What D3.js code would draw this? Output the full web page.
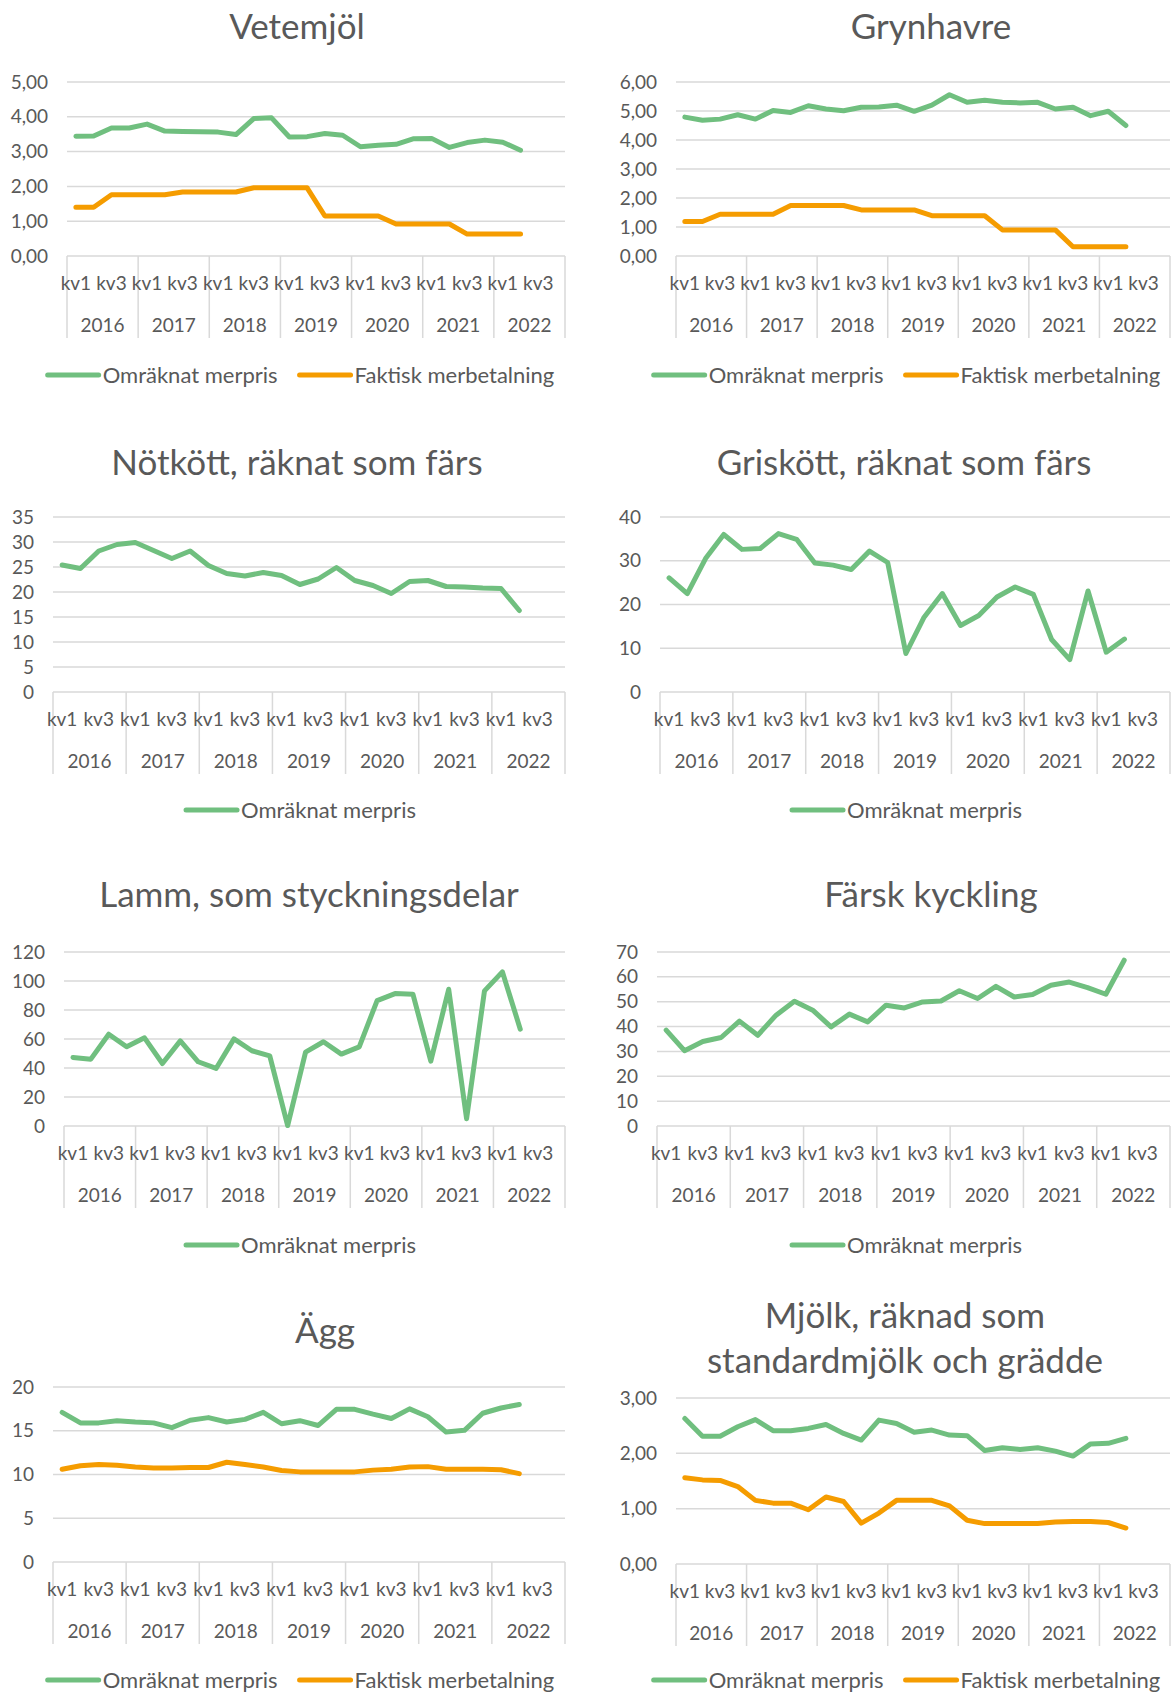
<!DOCTYPE html>
<html>
<head>
<meta charset="utf-8">
<script src="https://cdn.jsdelivr.net/npm/d3@7"></script>
<style>
  body { margin: 0; background: #fff; }
  svg { display: block; font-family: Lato, "Open Sans", sans-serif; }
</style>
</head>
<body>
<svg id="chart" width="1174" height="1693"></svg>
<script>
// kategorier
const years = ["2016", "2017", "2018", "2019", "2020", "2021", "2022"];
const quarters = ["kv1", "kv2", "kv3", "kv4"];
const shownQuarters = ["kv1", "kv3"];

// Vetemjöl
const vetemjolOmraknat = [3.44, 3.45, 3.68, 3.68, 3.79, 3.59, 3.58, 3.57, 3.56, 3.49, 3.95, 3.97, 3.42,
    3.43, 3.52, 3.47, 3.14, 3.18, 3.21, 3.37, 3.38, 3.12, 3.26, 3.33, 3.27, 3.04];
const vetemjolFaktisk = [1.40, 1.40, 1.76, 1.76, 1.76, 1.76, 1.84, 1.84, 1.84, 1.84, 1.96, 1.96, 1.96,
    1.96, 1.15, 1.15, 1.15, 1.15, 0.92, 0.92, 0.92, 0.92, 0.63, 0.63, 0.63, 0.63];

// Grynhavre
const grynhavreOmraknat = [4.79, 4.68, 4.72, 4.87, 4.72, 5.02, 4.95, 5.18, 5.07, 5.01, 5.13, 5.14, 5.20,
    4.99, 5.20, 5.56, 5.30, 5.37, 5.30, 5.28, 5.30, 5.07, 5.13, 4.84, 4.99, 4.50];
const grynhavreFaktisk = [1.19, 1.19, 1.44, 1.44, 1.44, 1.44, 1.74, 1.74, 1.74, 1.74, 1.59, 1.59, 1.59,
    1.59, 1.39, 1.39, 1.39, 1.39, 0.90, 0.90, 0.90, 0.90, 0.32, 0.32, 0.32, 0.32];

// Nötkött, räknat som färs
const notkottOmraknat = [25.4, 24.7, 28.2, 29.5, 29.9, 28.3, 26.7, 28.2, 25.3, 23.7, 23.2, 23.9, 23.3,
    21.5, 22.6, 24.9, 22.3, 21.3, 19.7, 22.1, 22.3, 21.1, 21.0, 20.8, 20.7, 16.3];

// Griskött, räknat som färs
const griskottOmraknat = [26.1, 22.5, 30.5, 36.0, 32.6, 32.8, 36.2, 34.9, 29.5, 29.0, 28.0, 32.2, 29.6,
    8.8, 17.1, 22.5, 15.2, 17.5, 21.7, 24.0, 22.3, 12.0, 7.4, 23.1, 9.1, 12.1];

// Lamm, som styckningsdelar
const lammOmraknat = [47.3, 46.1, 63.3, 54.6, 60.8, 43.1, 58.7, 44.3, 39.7, 60.1, 51.9, 48.4, 0.3,
    50.9, 58.1, 49.6, 54.6, 86.5, 91.3, 90.9, 44.7, 94.3, 5.0, 93.2, 106.3, 66.8];

// Färsk kyckling
const kycklingOmraknat = [38.6, 30.3, 34.0, 35.6, 42.2, 36.5, 44.6, 50.2, 46.6, 39.9, 45.0, 41.9, 48.6,
    47.5, 49.9, 50.3, 54.4, 51.3, 56.2, 51.9, 52.9, 56.6, 57.9, 55.7, 53.0, 66.7];

// Ägg
const aggOmraknat = [17.1, 15.9, 15.9, 16.15, 16.0, 15.9, 15.35, 16.2, 16.5, 16.0, 16.3, 17.1, 15.8,
    16.15, 15.6, 17.45, 17.45, 16.9, 16.4, 17.5, 16.6, 14.85, 15.05, 17.0, 17.6, 18.0];
const aggFaktisk = [10.6, 11.0, 11.15, 11.05, 10.85, 10.75, 10.75, 10.8, 10.8, 11.4, 11.15, 10.85, 10.45,
    10.3, 10.3, 10.3, 10.3, 10.5, 10.6, 10.85, 10.9, 10.6, 10.6, 10.6, 10.55, 10.1];

// Mjölk, räknad som standardmjölk och grädde
const mjolkOmraknat = [2.63, 2.31, 2.31, 2.48, 2.61, 2.41, 2.41, 2.45, 2.52, 2.36, 2.24, 2.60, 2.54,
    2.38, 2.42, 2.33, 2.32, 2.05, 2.10, 2.07, 2.10, 2.04, 1.95, 2.17, 2.18, 2.27];
const mjolkFaktisk = [1.56, 1.52, 1.51, 1.40, 1.15, 1.10, 1.10, 0.98, 1.21, 1.13, 0.74, 0.92, 1.15,
    1.15, 1.15, 1.05, 0.79, 0.73, 0.73, 0.73, 0.73, 0.76, 0.77, 0.77, 0.75, 0.65];

const seriesNames = ["Omräknat merpris", "Faktisk merbetalning"];

const GREEN = "#70bf7f";
const ORANGE = "#f59c00";
const GRID = "#d9d9d9";
const TEXT = "#595959";

const categories = years.flatMap(y => quarters.map(q => y + "|" + q));

function ser(values, i) {
    return { name: seriesNames[i], values: values, color: i == 0 ? GREEN : ORANGE };
}

// layout för varje diagram
const panels = [
    { title: ["Vetemjöl"], tx: 297, ty: 39, x0: 67, x1: 565, yTop: 82, y0: 256, max: 5, step: 1, dec: 2,
      series: [ser(vetemjolOmraknat, 0), ser(vetemjolFaktisk, 1)], lx: 300, ly: 375 },
    { title: ["Grynhavre"], tx: 931, ty: 39, x0: 676, x1: 1170, yTop: 82, y0: 256, max: 6, step: 1, dec: 2,
      series: [ser(grynhavreOmraknat, 0), ser(grynhavreFaktisk, 1)], lx: 906, ly: 375 },
    { title: ["Nötkött, räknat som färs"], tx: 297, ty: 475, x0: 53, x1: 565, yTop: 517, y0: 692, max: 35, step: 5, dec: 0,
      series: [ser(notkottOmraknat, 0)], lx: 300, ly: 810 },
    { title: ["Griskött, räknat som färs"], tx: 904, ty: 475, x0: 660, x1: 1170, yTop: 517, y0: 692, max: 40, step: 10, dec: 0,
      series: [ser(griskottOmraknat, 0)], lx: 906, ly: 810 },
    { title: ["Lamm, som styckningsdelar"], tx: 309, ty: 907, x0: 64, x1: 565, yTop: 952, y0: 1126, max: 120, step: 20, dec: 0,
      series: [ser(lammOmraknat, 0)], lx: 300, ly: 1245 },
    { title: ["Färsk kyckling"], tx: 931, ty: 907, x0: 657, x1: 1170, yTop: 952, y0: 1126, max: 70, step: 10, dec: 0,
      series: [ser(kycklingOmraknat, 0)], lx: 906, ly: 1245 },
    { title: ["Ägg"], tx: 325, ty: 1343, x0: 53, x1: 565, yTop: 1387, y0: 1562, max: 20, step: 5, dec: 0,
      series: [ser(aggOmraknat, 0), ser(aggFaktisk, 1)], lx: 300, ly: 1680 },
    { title: ["Mjölk, räknad som", "standardmjölk och grädde"], tx: 905, ty: 1328, x0: 676, x1: 1170, yTop: 1398, y0: 1564, max: 3, step: 1, dec: 2,
      series: [ser(mjolkOmraknat, 0), ser(mjolkFaktisk, 1)], lx: 906, ly: 1680 }
];

const svg = d3.select("#chart");

function fmt(v, dec) {
    return v.toFixed(dec).replace(".", ",");
}

function drawPanel(p) {
    const g = svg.append("g");

    // titel
    const title = g.append("text")
        .attr("x", p.tx)
        .attr("y", p.ty)
        .attr("text-anchor", "middle")
        .attr("fill", TEXT)
        .style("font-size", "35px");
    p.title.forEach((line, i) => {
        title.append("tspan").attr("x", p.tx).attr("dy", i == 0 ? 0 : 45).text(line);
    });

    const x = d3.scaleBand().domain(categories).range([p.x0, p.x1]).padding(0);
    const y = d3.scaleLinear().domain([0, p.max]).range([p.y0, p.yTop]);
    const ticks = d3.range(0, p.max + p.step / 2, p.step);

    // rutnät
    g.append("g")
        .selectAll("line")
        .data(ticks)
        .join("line")
        .attr("x1", p.x0)
        .attr("x2", p.x1)
        .attr("y1", d => y(d))
        .attr("y2", d => y(d))
        .attr("stroke", GRID)
        .attr("stroke-width", 1.5);

    // y-axel
    const yAxis = d3.axisLeft(y).tickValues(ticks).tickSize(0).tickPadding(19).tickFormat(d => fmt(d, p.dec));
    g.append("g")
        .attr("transform", `translate(${p.x0},0)`)
        .call(yAxis)
        .call(a => a.select(".domain").remove())
        .call(a => a.selectAll("text").attr("fill", TEXT).style("font-size", "19px").style("font-family", "Lato, sans-serif"));

    // årsgränser
    const yearW = x.bandwidth() * quarters.length;
    g.append("g")
        .selectAll("line")
        .data(d3.range(years.length + 1))
        .join("line")
        .attr("x1", i => p.x0 + i * yearW)
        .attr("x2", i => p.x0 + i * yearW)
        .attr("y1", p.y0)
        .attr("y2", p.y0 + 82)
        .attr("stroke", GRID)
        .attr("stroke-width", 1.5);

    // kvartal
    g.append("g")
        .selectAll("text")
        .data(categories.filter(c => shownQuarters.includes(c.split("|")[1])))
        .join("text")
        .attr("x", c => x(c) + x.bandwidth() / 2)
        .attr("y", p.y0 + 27)
        .attr("dy", "0.35em")
        .attr("text-anchor", "middle")
        .attr("fill", TEXT)
        .style("font-size", "19px")
        .text(c => c.split("|")[1]);

    // år
    g.append("g")
        .selectAll("text")
        .data(years)
        .join("text")
        .attr("x", (d, i) => p.x0 + (i + 0.5) * yearW)
        .attr("y", p.y0 + 69)
        .attr("dy", "0.35em")
        .attr("text-anchor", "middle")
        .attr("fill", TEXT)
        .style("font-size", "19px")
        .text(d => d);

    // linjer
    const line = d3.line()
        .x((d, i) => x(categories[i]) + x.bandwidth() / 2)
        .y(d => y(d));
    p.series.slice().reverse().forEach(s => {
        g.append("path")
            .datum(s.values)
            .attr("d", line)
            .attr("fill", "none")
            .attr("stroke", s.color)
            .attr("stroke-width", 5)
            .attr("stroke-linejoin", "round")
            .attr("stroke-linecap", "round");
    });

    // legend
    const leg = g.append("g");
    let cx = 0;
    p.series.forEach((s, i) => {
        const item = leg.append("g").attr("transform", `translate(${cx},0)`);
        item.append("line")
            .attr("x1", 2).attr("x2", 53)
            .attr("y1", 0).attr("y2", 0)
            .attr("stroke", s.color)
            .attr("stroke-width", 5)
            .attr("stroke-linecap", "round");
        const t = item.append("text")
            .attr("x", 57)
            .attr("dy", "0.35em")
            .attr("fill", TEXT)
            .style("font-size", "22px")
            .text(s.name);
        cx += 57 + t.node().getComputedTextLength() + 20;
    });
    const legW = cx - 20;
    leg.attr("transform", `translate(${p.lx - legW / 2},${p.ly})`);
}

panels.forEach(drawPanel);
</script>
</body>
</html>
